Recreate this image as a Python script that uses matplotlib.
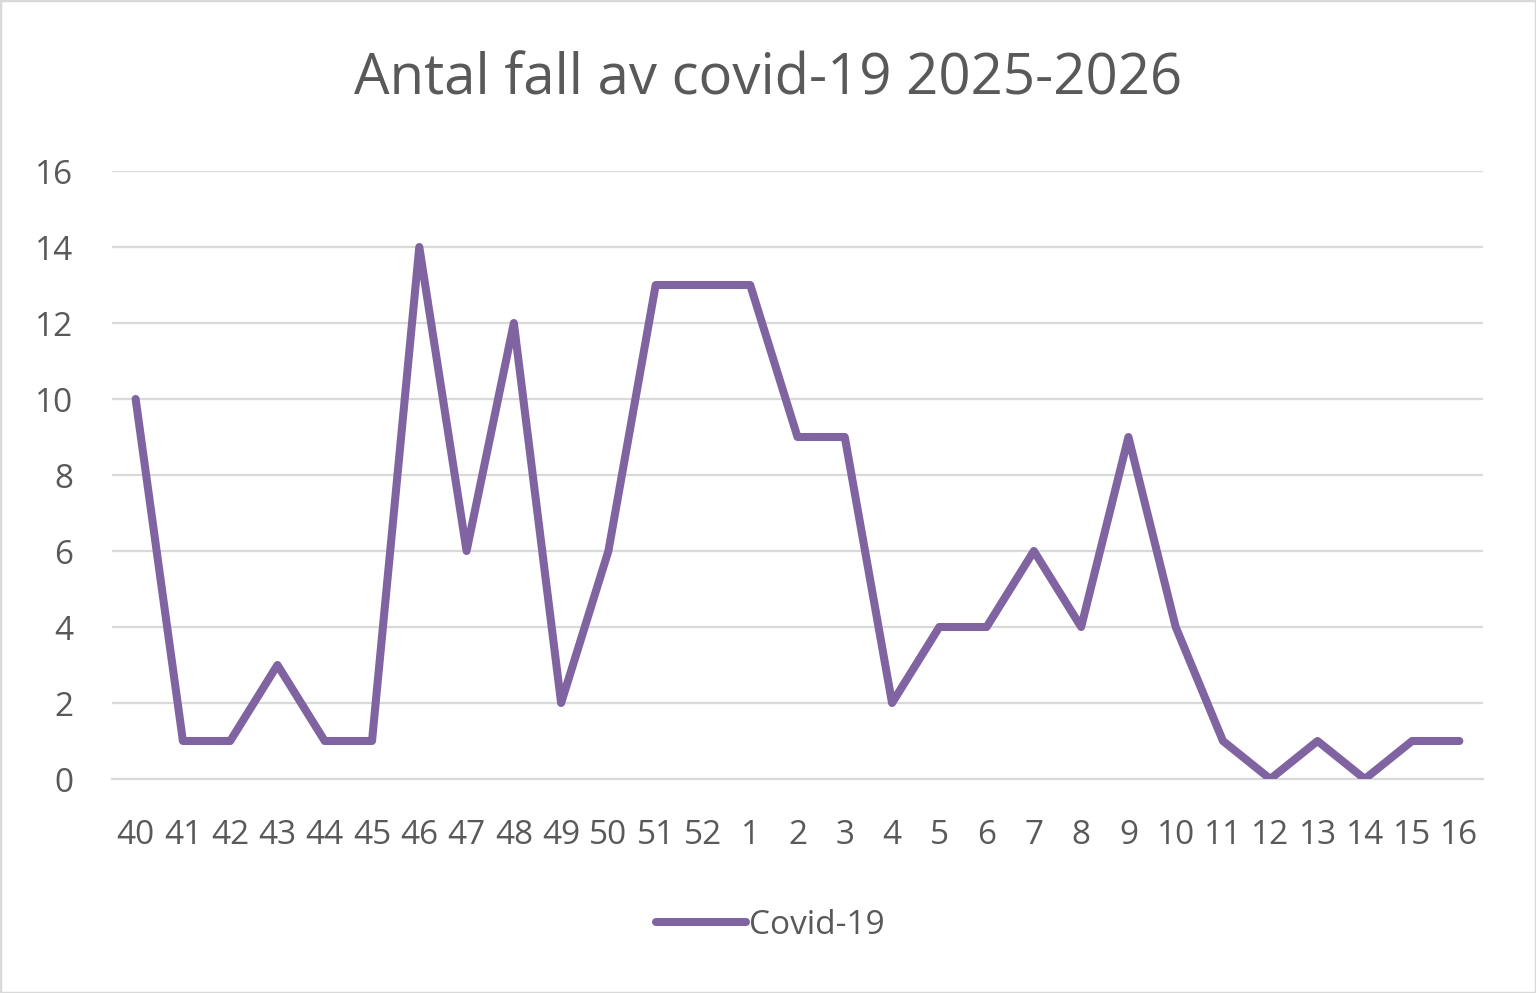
import matplotlib.pyplot as plt
from matplotlib.patches import Rectangle

weeks = ['40', '41', '42', '43', '44', '45', '46', '47', '48', '49', '50', '51', '52',
         '1', '2', '3', '4', '5', '6', '7', '8', '9', '10', '11', '12', '13', '14', '15', '16']
cases = [10, 1, 1, 3, 1, 1, 14, 6, 12, 2, 6, 13, 13,
         13, 9, 9, 2, 4, 4, 6, 4, 9, 4, 1, 0, 1, 0, 1, 1]
yticks = [0, 2, 4, 6, 8, 10, 12, 14, 16]

txt = '#595959'
grid = '#D9D9D9'
purple = '#8064A2'
plt.rcParams['font.family'] = ['Open Sans', 'DejaVu Sans']

W, H = 1536, 993
fig = plt.figure(figsize=(W / 100, H / 100), dpi=100)
fig.patches.append(Rectangle((0, 0), 1, 1, transform=fig.transFigure, fill=False,
                             edgecolor=grid, linewidth=2.5))

ax = fig.add_axes([112 / W, 1 - 779 / H, (1483 - 112) / W, (779 - 171) / H])
x = list(range(len(weeks)))
ax.plot(x, cases, color=purple, linewidth=5.8, solid_capstyle='round',
        solid_joinstyle='round', label='Covid-19', zorder=3)

ax.set_xlim(-0.5, len(weeks) - 0.5)
ax.set_ylim(0, 16)
ax.set_yticks(yticks)
ax.set_xticks(x)
ax.set_xticklabels(weeks)
ax.grid(axis='y', color=grid, linewidth=1.6)
ax.set_axisbelow(True)
for s in ['top', 'right', 'left']:
    ax.spines[s].set_visible(False)
ax.spines['bottom'].set_color(grid)
ax.spines['bottom'].set_linewidth(1.6)
ax.tick_params(axis='both', length=0, labelsize=24, labelcolor=txt)
ax.tick_params(axis='y', pad=28)
ax.tick_params(axis='x', pad=29)

fig.text(768 / W, 1 - 80 / H, 'Antal fall av covid-19 2025-2026', ha='center', va='center',
         fontsize=40.5, color=txt)

leg = fig.legend(loc='center', bbox_to_anchor=(770 / W, 1 - 925 / H), frameon=False,
                 fontsize=24, handlelength=2.7, handletextpad=0.08)
for t in leg.get_texts():
    t.set_color(txt)

fig.savefig('out.png', dpi=100)
